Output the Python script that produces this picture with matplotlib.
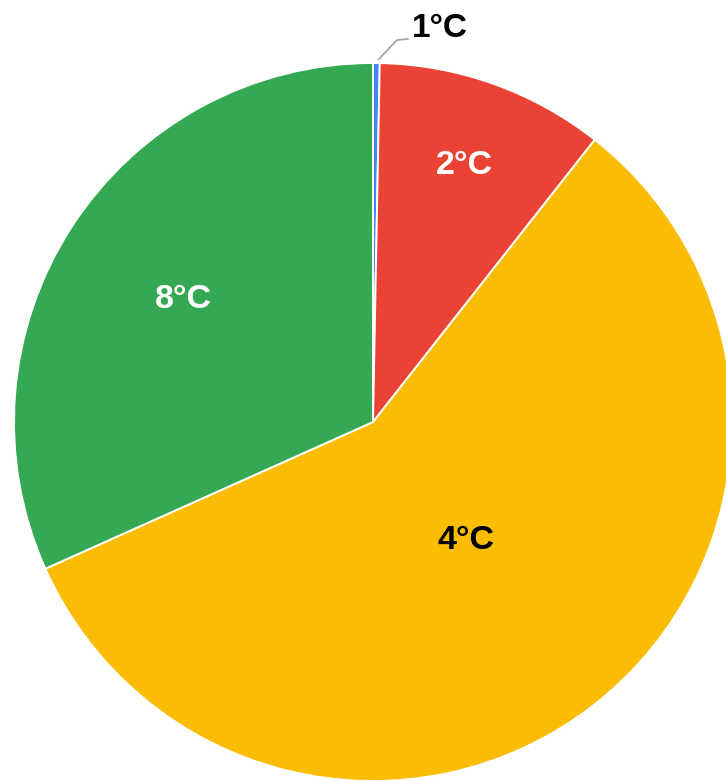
import numpy as np
import matplotlib.pyplot as plt

plt.rcParams['font.family'] = ['Liberation Sans', 'DejaVu Sans']

# share of each temperature band (%)
labels = ["1°C", "2°C", "4°C", "8°C"]
shares = [0.3, 10.3, 57.7, 31.7]
colors = ["#4285F4", "#EA4335", "#FBBC04", "#34A853"]
text_colors = ["#000000", "#FFFFFF", "#000000", "#FFFFFF"]
label_radius = [None, 0.76, 0.42, 0.63]

fig = plt.figure(figsize=(7.26, 7.81), dpi=100)
ax = fig.add_axes([0, 0, 1, 1])

wedges, _ = ax.pie(shares, colors=colors, startangle=90, counterclock=False,
                   radius=1.0, center=(0, 0),
                   wedgeprops=dict(edgecolor="white", linewidth=1.4))

for w, lab, tc, r in zip(wedges, labels, text_colors, label_radius):
    mid = np.deg2rad((w.theta1 + w.theta2) / 2)
    if r is None:
        # tiny slice: label outside with a leader line
        x0, y0 = 1.01 * np.cos(mid), 1.01 * np.sin(mid)
        ax.plot([x0 + 0.006, 0.067, 0.098], [y0, 1.064, 1.067],
                color="#A0A0A0", lw=1.2, solid_capstyle="round")
        ax.text(0.108, 1.097, lab, color=tc, fontsize=24, fontweight="bold",
                ha="left", va="center")
    else:
        ax.text(r * np.cos(mid), r * np.sin(mid), lab, color=tc, fontsize=24.5,
                fontweight="bold", ha="center", va="center")

ax.set_xlim(-373 / 359, (726 - 373) / 359)
ax.set_ylim(-(781 - 422) / 359, 422 / 359)
ax.set_aspect("auto")
ax.axis("off")

fig.savefig("out.png", dpi=100, facecolor="white")
